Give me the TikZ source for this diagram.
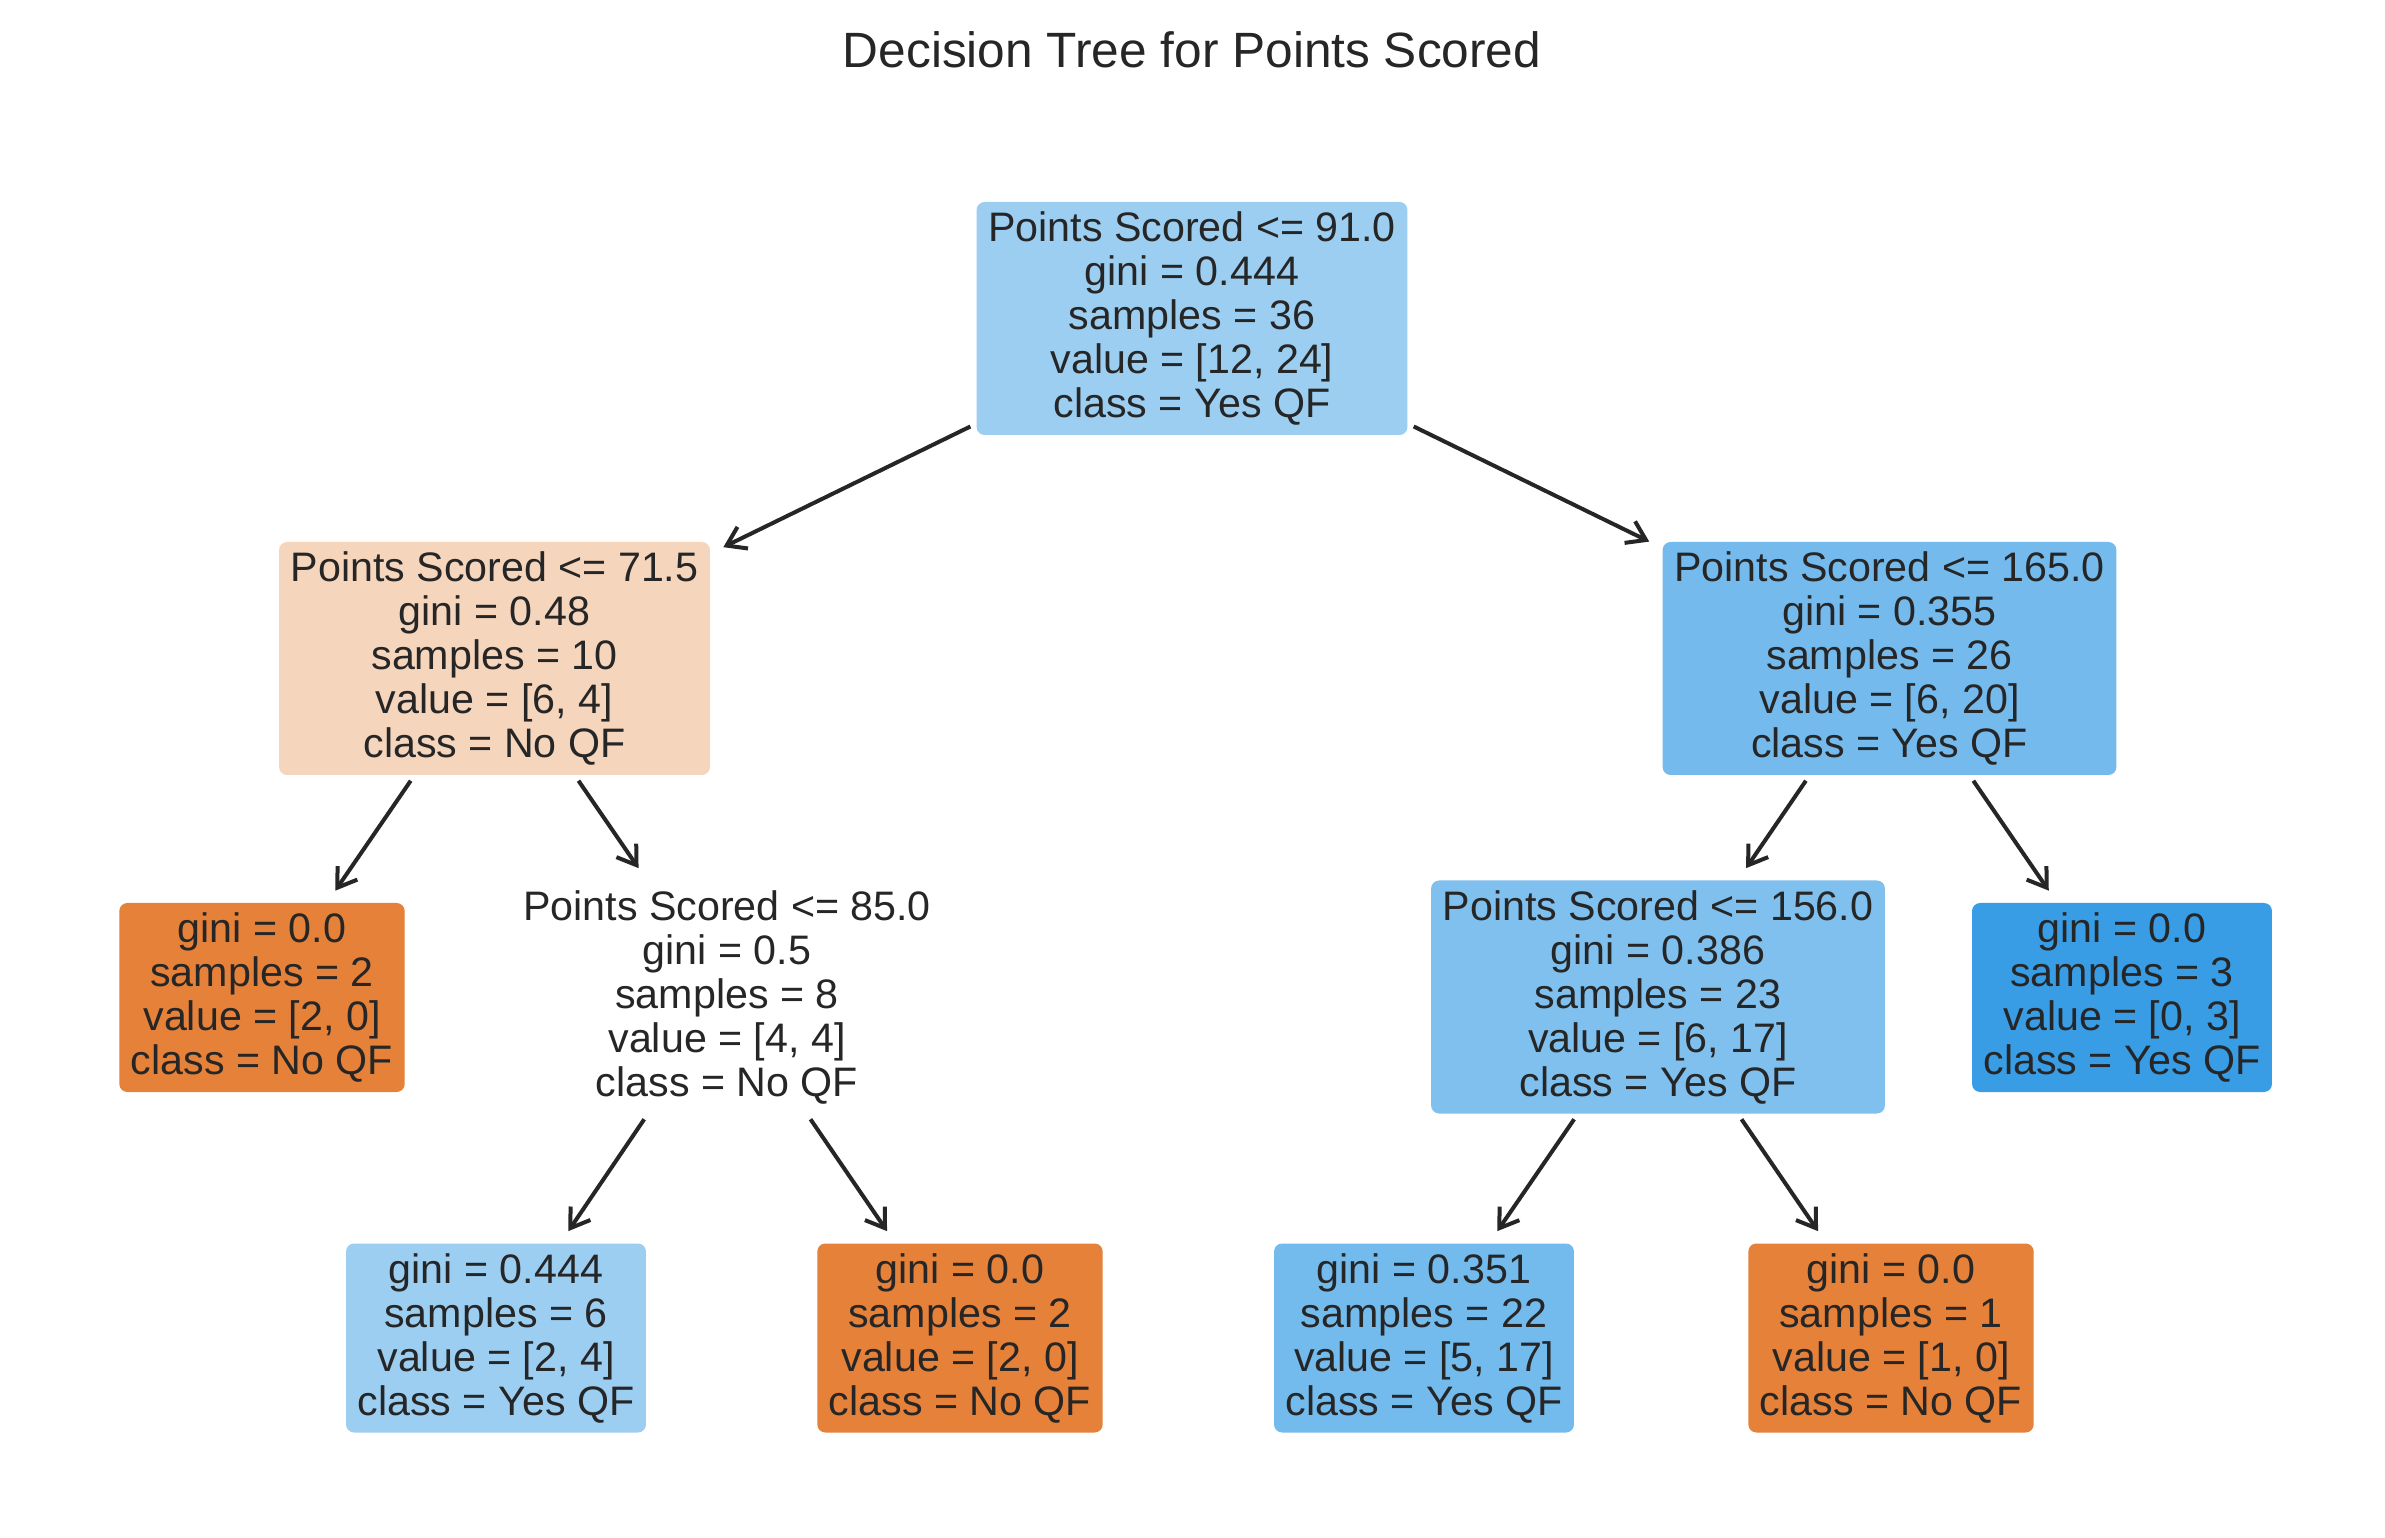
\documentclass[tikz,border=0pt]{standalone}
\usepackage{fontspec}
\setmainfont{Liberation Sans}
\usetikzlibrary{arrows.meta}
\definecolor{txt}{RGB}{38,38,38}
\definecolor{cRoot}{RGB}{156,206,242}
\definecolor{cA}{RGB}{246,213,189}
\definecolor{cB}{RGB}{116,186,237}
\definecolor{cC}{RGB}{127,192,238}
\definecolor{cD}{RGB}{115,186,237}
\definecolor{cBlue}{RGB}{57,157,229}
\definecolor{cOrange}{RGB}{229,129,57}
\tikzset{
  treebox/.style={rectangle, rounded corners=2pt, align=center, text=txt,
    font=\fontsize{10.3}{11}\selectfont, inner xsep=2.9pt, inner ysep=0pt},
  fivel/.style={treebox, minimum height=58.25pt},
  fourl/.style={treebox, minimum height=47.25pt},
  arr/.style={draw=txt, line width=1pt, -{Straight Barb[length=4.5pt,width=6pt]},
    shorten <=1.5pt, shorten >=3.5pt}
}
\begin{document}
\begin{tikzpicture}[x=0.25pt,y=-0.25pt]
\useasboundingbox (0,0) rectangle (2385,1538);
\fill[white] (0,0) rectangle (2385,1538);
\node[text=txt, font=\fontsize{12.4}{14}\selectfont] (title) at (1192,50) {Decision Tree for Points Scored};

\node[fivel, fill=cRoot] (root) at (1192,318.5) {Points Scored <= 91.0\\gini = 0.444\\samples = 36\\value = [12, 24]\\class = Yes QF};
\node[fivel, fill=cA] (n1) at (494.5,658.5) {Points Scored <= 71.5\\gini = 0.48\\samples = 10\\value = [6, 4]\\class = No QF};
\node[fivel, fill=cB] (n2) at (1889.5,658.5) {Points Scored <= 165.0\\gini = 0.355\\samples = 26\\value = [6, 20]\\class = Yes QF};

\node[fourl, fill=cOrange] (l1) at (262,997.5) {gini = 0.0\\samples = 2\\value = [2, 0]\\class = No QF};
\node[fivel] (n3) at (727,997) {Points Scored <= 85.0\\gini = 0.5\\samples = 8\\value = [4, 4]\\class = No QF};
\node[fivel, fill=cC] (n4) at (1658,997) {Points Scored <= 156.0\\gini = 0.386\\samples = 23\\value = [6, 17]\\class = Yes QF};
\node[fourl, fill=cBlue] (l2) at (2122,997.5) {gini = 0.0\\samples = 3\\value = [0, 3]\\class = Yes QF};

\node[fourl, fill=cRoot] (l3) at (496,1338) {gini = 0.444\\samples = 6\\value = [2, 4]\\class = Yes QF};
\node[fourl, fill=cOrange] (l4) at (960,1338) {gini = 0.0\\samples = 2\\value = [2, 0]\\class = No QF};
\node[fourl, fill=cD] (l5) at (1424,1338) {gini = 0.351\\samples = 22\\value = [5, 17]\\class = Yes QF};
\node[fourl, fill=cOrange] (l6) at (1891,1338) {gini = 0.0\\samples = 1\\value = [1, 0]\\class = No QF};

\draw[arr] (root) -- (n1);
\draw[arr] (root) -- (n2);
\draw[arr] (n1) -- (l1);
\draw[arr] (n1) -- (n3);
\draw[arr] (n2) -- (n4);
\draw[arr] (n2) -- (l2);
\draw[arr] (n3) -- (l3);
\draw[arr] (n3) -- (l4);
\draw[arr] (n4) -- (l5);
\draw[arr] (n4) -- (l6);
\end{tikzpicture}
\end{document}
